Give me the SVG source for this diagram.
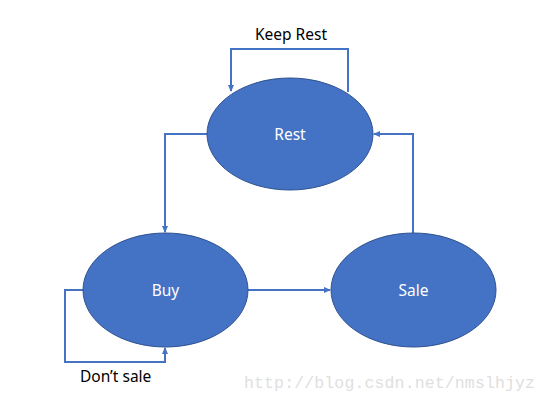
<svg xmlns="http://www.w3.org/2000/svg" width="544" height="402" viewBox="0 0 544 402">
<defs>
<marker id="ah" markerWidth="8" markerHeight="8" refX="6" refY="4" orient="auto" markerUnits="userSpaceOnUse">
<path d="M0,1 L7,4 L0,7 Z" fill="#4472C4"/>
</marker>
<style>
.node{fill:#4472C4;stroke:#2F528F;stroke-width:1}
.nt{font-family:"Noto Sans","Open Sans",sans-serif;font-size:15.5px;fill:#FFFFFF;text-anchor:middle}
.lbl{font-family:"Noto Sans","Open Sans",sans-serif;font-size:15.5px;fill:#000000}
.edge{fill:none;stroke:#4472C4;stroke-width:2;marker-end:url(#ah)}
</style>
</defs>
<rect width="544" height="402" fill="#FFFFFF"/>
<g id="connectors">
<path class="edge" d="M348,92 V49 H231 V91"/>
<path class="edge" d="M207,134 H165 V232"/>
<path class="edge" d="M413,233 V134 H374"/>
<path class="edge" d="M248,290 H330"/>
<path class="edge" d="M83,290 H65 V362 H165 V348"/>
</g>
<g id="rest">
<ellipse class="node" cx="290" cy="134" rx="83" ry="56"/>
<text class="nt" x="290" y="139.5">Rest</text>
</g>
<g id="buy">
<ellipse class="node" cx="165.5" cy="290" rx="82.5" ry="57"/>
<text class="nt" x="165.5" y="295.5">Buy</text>
</g>
<g id="sale">
<ellipse class="node" cx="413.5" cy="290" rx="82.5" ry="57"/>
<text class="nt" x="413.5" y="295.5">Sale</text>
</g>
<text class="lbl" x="291" y="40" text-anchor="middle">Keep Rest</text>
<text class="lbl" x="80" y="382">Don’t sale</text>
<text x="244" y="388" font-family="Liberation Mono,monospace" font-size="16.5" fill="#E0E0E0" textLength="291">http://blog.csdn.net/nmslhjyz</text>
</svg>
